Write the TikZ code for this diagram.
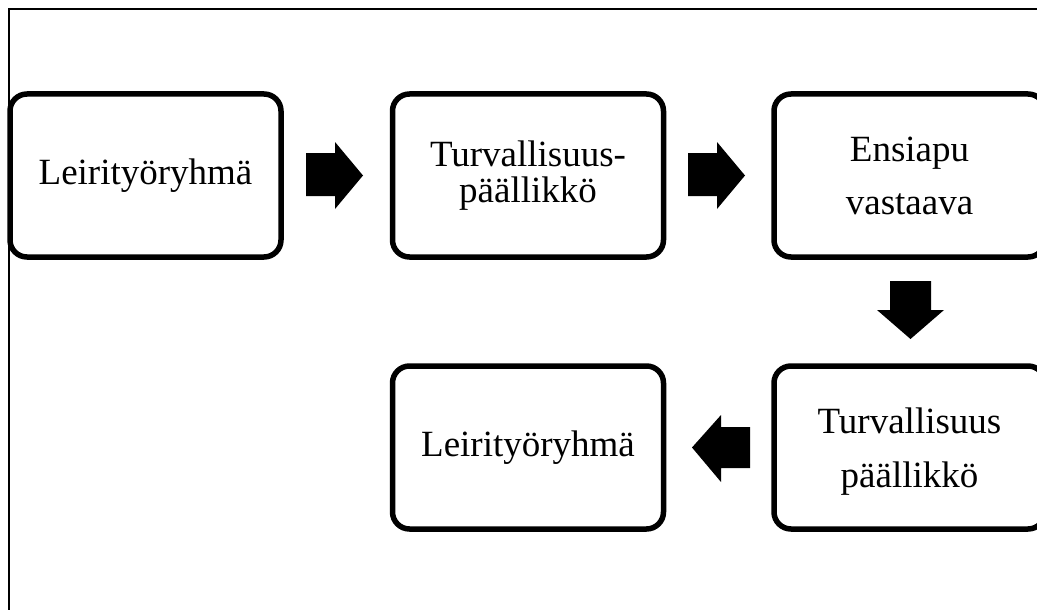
\documentclass[tikz,border=0pt]{standalone}
\usepackage{fontspec}
\setmainfont{Liberation Serif}
\begin{document}
\begin{tikzpicture}[x=1pt,y=-1pt,
  box/.style={draw=black,line width=5.5pt,rounded corners=17pt,
    minimum width=271pt,minimum height=163pt,inner sep=0pt,align=center},
  blockarrow/.style={fill=black,draw=none}]
\useasboundingbox (0,0) rectangle (1037,610);
\clip (0,0) rectangle (1037,610);
% page frame
\draw[line width=2pt] (9,700) -- (9,9) -- (1100,9);
% boxes
\node[box,font=\fontsize{37}{44}\selectfont] (b1) at (145.5,175.5) {Leirityöryhmä};
\node[box,font=\fontsize{37}{36}\selectfont] (b2) at (528,175.5) {Turvallisuus-\\päällikkö};
\node[box,font=\fontsize{37}{53}\selectfont] (b3) at (909.5,175.5) {Ensiapu\\vastaava};
\node[box,font=\fontsize{37}{54}\selectfont] (b5) at (909.5,447.5) {\rule{0pt}{33pt}Turvallisuus\\päällikkö};
\node[box,font=\fontsize{37}{44}\selectfont] (b4) at (528,447.5) {Leirityöryhmä};
% block arrows
\fill[blockarrow] (306,153) -- (335,153) -- (335,142) -- (363,175.5) -- (335,209) -- (335,196) -- (306,196) -- cycle;
\fill[blockarrow] (688,153) -- (717,153) -- (717,142) -- (745,175.5) -- (717,209) -- (717,196) -- (688,196) -- cycle;
\fill[blockarrow] (890,281) -- (931,281) -- (931,310) -- (944,310) -- (910.5,339) -- (877,310) -- (890,310) -- cycle;
\fill[blockarrow] (750,427) -- (721,427) -- (721,415) -- (692,447.5) -- (721,482) -- (721,468) -- (750,468) -- cycle;
\end{tikzpicture}
\end{document}
